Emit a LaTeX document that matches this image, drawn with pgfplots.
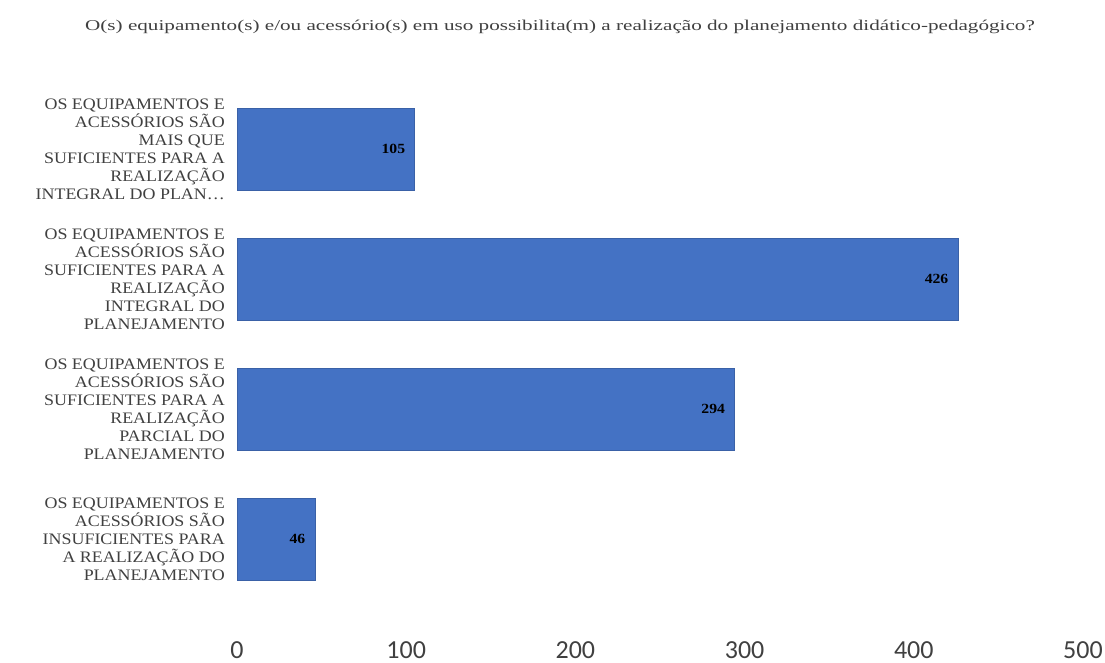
\documentclass[border=0pt]{standalone}
\usepackage{fontspec}
\setmainfont{Liberation Serif}
\newfontfamily\lab[FakeStretch=1.12]{Liberation Serif}
\newfontfamily\ttl[FakeStretch=1.41]{Liberation Serif}
\newfontfamily\tickfont{Carlito}
\usepackage{pgfplots}
\pgfplotsset{compat=1.18}
\definecolor{barblue}{HTML}{4472C4}
\definecolor{labgray}{HTML}{404040}
\begin{document}
\begin{tikzpicture}
\useasboundingbox (0,0) rectangle (1105bp,663bp);
\node[font=\ttl\fontsize{15bp}{17bp}\selectfont, text=labgray] at (560bp,636bp)
  {O(s) equipamento(s) e/ou acessório(s) em uso possibilita(m) a realização do planejamento didático-pedagógico?};
\begin{axis}[
    at={(237bp,46bp)}, anchor=south west,
    scale only axis, width=846bp, height=546bp,
    xbar, bar width=82bp,
    xmin=0, xmax=500, ymin=-0.6, ymax=3.6,
    y dir=reverse,
    axis line style={draw=none},
    major tick length=0pt,
    xtick={0,100,200,300,400,500},
    ytick={0,1,2,3},
    yticklabels={
      {OS EQUIPAMENTOS E\\ACESSÓRIOS SÃO\\MAIS QUE\\SUFICIENTES PARA A\\REALIZAÇÃO\\INTEGRAL DO PLAN…},
      {OS EQUIPAMENTOS E\\ACESSÓRIOS SÃO\\SUFICIENTES PARA A\\REALIZAÇÃO\\INTEGRAL DO\\PLANEJAMENTO},
      {OS EQUIPAMENTOS E\\ACESSÓRIOS SÃO\\SUFICIENTES PARA A\\REALIZAÇÃO\\PARCIAL DO\\PLANEJAMENTO},
      {OS EQUIPAMENTOS E\\ACESSÓRIOS SÃO\\INSUFICIENTES PARA\\A REALIZAÇÃO DO\\PLANEJAMENTO}},
    yticklabel style={align=right, inner sep=0pt, xshift=-12bp, text=labgray,
      font=\lab\fontsize{16bp}{18bp}\selectfont},
    xticklabel style={anchor=base, inner sep=0pt, yshift=-41bp, text=labgray,
      font=\tickfont\fontsize{26bp}{28bp}\selectfont},
    /pgf/number format/assume math mode=true,
    nodes near coords,
    every node near coord/.append style={anchor=east, xshift=-6bp, text=black,
      font=\lab\bfseries\fontsize{14bp}{16bp}\selectfont},
]
\addplot[fill=barblue, draw=barblue!85!black] coordinates {
    (105,0)
    (426,1)
    (294,2)
    (46,3)
};
\end{axis}
\end{tikzpicture}
\end{document}
